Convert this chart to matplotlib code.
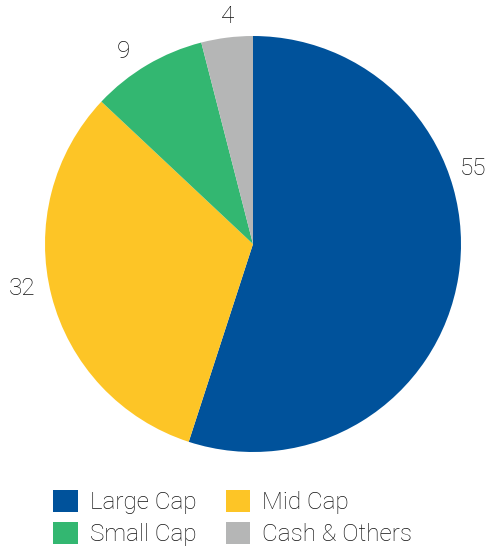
import numpy as np
import matplotlib.pyplot as plt
from matplotlib.patches import Patch

plt.rcParams['font.family'] = ['Roboto', 'DejaVu Sans']

# data
categories = ['Large Cap', 'Mid Cap', 'Small Cap', 'Cash & Others']
values = [55, 32, 9, 4]
colors = ['#00529b', '#fdc526', '#33b771', '#b5b6b6']

fig = plt.figure(figsize=(4.87, 5.46), dpi=100)
ax = fig.add_axes([45 / 487, 94 / 546, 416 / 487, 416 / 546])

wedges, texts = ax.pie(values, colors=colors, startangle=90, counterclock=False,
                       labels=[str(v) for v in values], labeldistance=1.12,
                       textprops=dict(fontsize=17.5, color='#111111', fontweight='light'),
                       wedgeprops=dict(linewidth=0))
# label spots as in the original layout (angle in degrees, radius)
label_pos = [(19, 1.12), (191, 1.13), (124, 1.115), (96.3, 1.10)]
for t, (a, r) in zip(texts, label_pos):
    t.set_position((r * np.cos(np.deg2rad(a)), r * np.sin(np.deg2rad(a))))
    t.set_ha('center')
    t.set_va('center')

ax.set_xlim(-1, 1)
ax.set_ylim(-1, 1)
ax.set_aspect('equal')

# legend row by row: Large, Mid / Small, Cash
order = [0, 2, 1, 3]
handles = [Patch(color=colors[i], linewidth=0) for i in order]
labels = [categories[i] for i in order]
leg = fig.legend(handles, labels, ncol=2, loc='upper center',
                 bbox_to_anchor=(0.478, 0.143), frameon=False,
                 handlelength=1.0, handleheight=1.0,
                 handletextpad=0.5, columnspacing=1.2, labelspacing=0.32,
                 prop=dict(family=['Roboto', 'DejaVu Sans'], weight='light', size=17.5))
for t in leg.get_texts():
    t.set_color('#111111')

fig.savefig('out.png', dpi=100)
